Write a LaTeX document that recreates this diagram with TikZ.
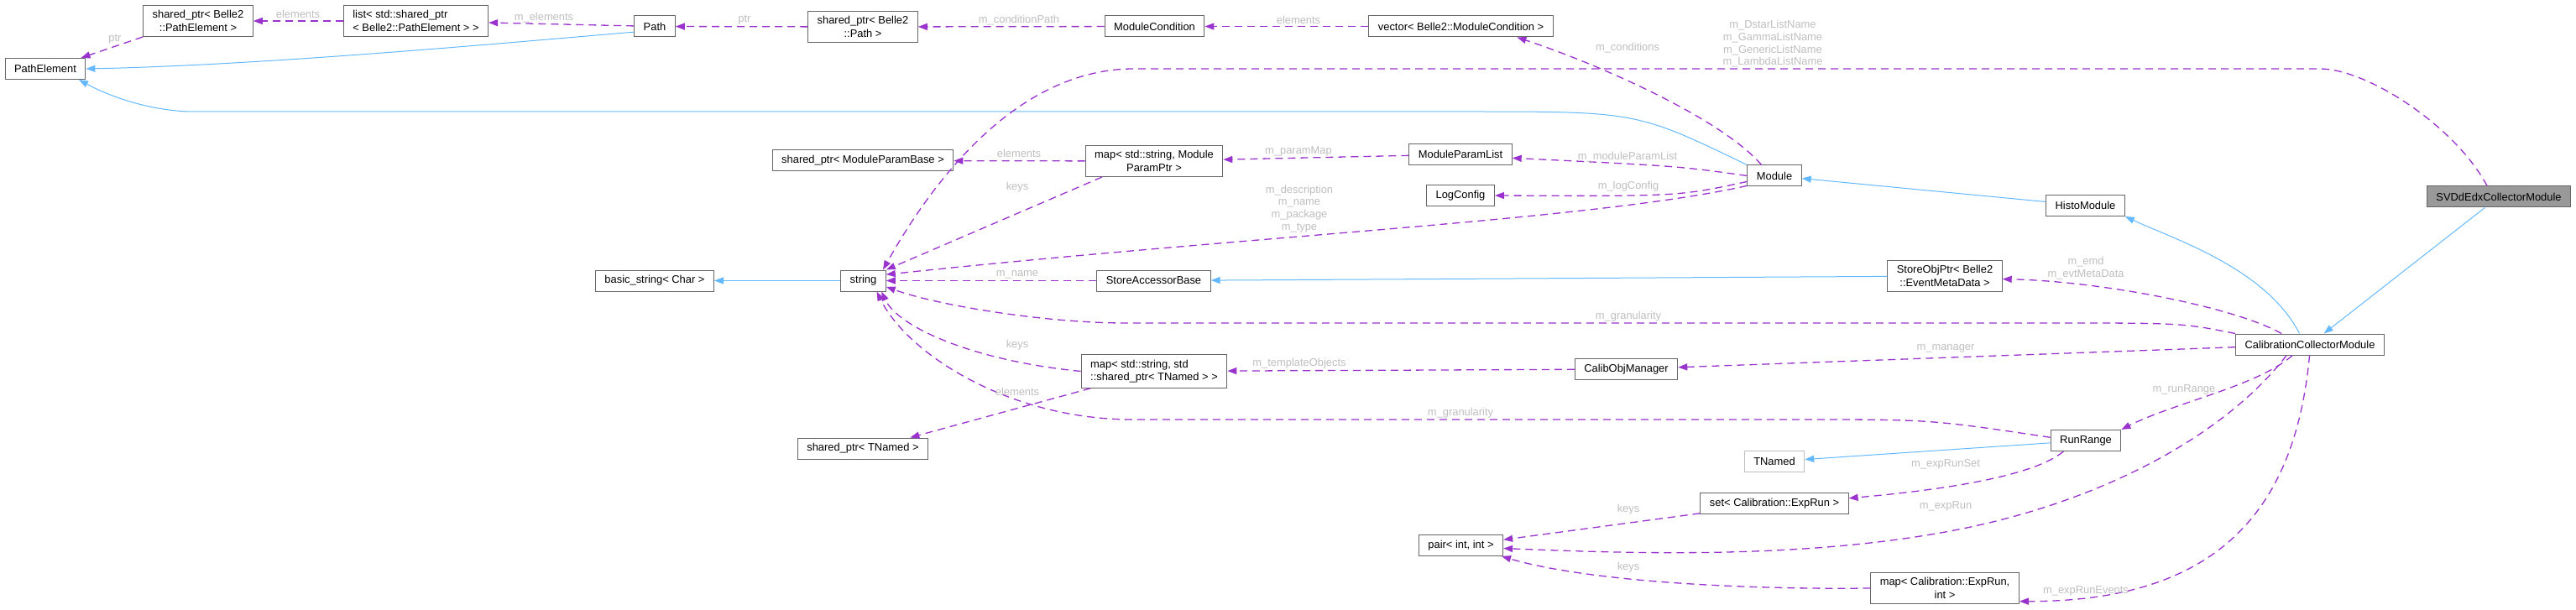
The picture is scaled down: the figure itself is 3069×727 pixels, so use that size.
\documentclass[tikz,border=0pt]{standalone}
\usepackage{fontspec}
\setmainfont{Liberation Sans}
\usetikzlibrary{arrows.meta}
\definecolor{edgeblue}{HTML}{63B8FF}
\definecolor{edgepurple}{HTML}{9A32CD}
\definecolor{boxgray}{HTML}{666666}
\definecolor{nodocgray}{HTML}{BFBFBF}
\definecolor{focusgray}{HTML}{999999}
\definecolor{lblgray}{HTML}{BEBEBE}
\begin{document}
\begin{tikzpicture}[x=1pt, y=-1pt, font=\fontsize{12.9}{15.5}\selectfont,
    cls/.style={draw=boxgray, line width=1pt, fill=white, inner xsep=11pt, inner ysep=6pt, minimum height=25pt},
    inh/.style={edgeblue, line width=1pt, -{Triangle[length=11pt,width=8pt]}},
    use/.style={edgepurple, line width=1.3pt, dash pattern=on 9pt off 6pt, -{Triangle[length=11pt,width=8pt]}},
    lbl/.style={text=lblgray, inner sep=0pt, font=\fontsize{12.9}{14.7}\selectfont}]
    \useasboundingbox (0,0) rectangle (3069,727);
    \node[cls] (pe) at (54,82) {PathElement};
    \node[cls, align=center] (sppe) at (236,25) {shared\_ptr< Belle2\\::PathElement >};
    \node[cls, align=left] (lst) at (495.5,25) {list< std::shared\_ptr\\< Belle2::PathElement > >};
    \node[cls] (path) at (780,31.5) {Path};
    \node[cls, align=center] (sppath) at (1028,32) {shared\_ptr< Belle2\\::Path >};
    \node[cls] (mcond) at (1375.5,31.5) {ModuleCondition};
    \node[cls] (mcvec) at (1740.5,31.5) {vector< Belle2::ModuleCondition >};
    \node[cls] (spmpb) at (1028,191.5) {shared\_ptr< ModuleParamBase >};
    \node[cls, align=center] (pmap) at (1375,192) {map< std::string, Module\\ParamPtr >};
    \node[cls] (mplist) at (1740,184) {ModuleParamList};
    \node[cls] (logc) at (1740,233) {LogConfig};
    \node[cls] (module) at (2114,209.5) {Module};
    \node[cls] (histo) at (2484.5,245) {HistoModule};
    \node[cls, fill=focusgray] (svd) at (2977,234.5) {SVDdEdxCollectorModule};
    \node[cls] (str) at (1028.5,334.5) {string};
    \node[cls] (bstr) at (780,334.5) {basic\_string< Char >};
    \node[cls] (sab) at (1374.5,334.5) {StoreAccessorBase};
    \node[cls, align=center] (sop) at (2317,329) {StoreObjPtr< Belle2\\::EventMetaData >};
    \node[cls] (ccm) at (2752,410.5) {CalibrationCollectorModule};
    \node[cls] (com) at (1937.5,440) {CalibObjManager};
    \node[cls, align=left] (tmap) at (1375,442.5) {map< std::string, std\\::shared\_ptr< TNamed > >};
    \node[cls] (sptn) at (1028,534.5) {shared\_ptr< TNamed >};
    \node[cls] (pair) at (1740.5,650) {pair< int, int >};
    \node[cls] (rr) at (2485,525) {RunRange};
    \node[cls, draw=nodocgray] (tn) at (2114,550) {TNamed};
    \node[cls] (erset) at (2114,600) {set< Calibration::ExpRun >};
    \node[cls, align=center] (ermap) at (2317,701) {map< Calibration::ExpRun,\\int >};
    \draw[inh] (path.195) .. controls (560,55) and (300,78) .. (pe.east);
    \draw[inh] (module.north west) .. controls (1950,133) .. (1750,133) -- (231,133) .. controls (190,133) and (140,120) .. (pe.-18);
    \draw[inh] (histo) -- (module);
    \draw[inh] (ccm.134) .. controls (2700,320) and (2590,285) .. (histo.south east);
    \draw[inh] (svd) -- (ccm);
    \draw[inh] (sop) -- (sab);
    \draw[inh] (str) -- (bstr);
    \draw[inh] (rr) -- (tn);
    \draw[use] (sppe.south west) -- (pe.17);
    \draw[use] (lst) -- (sppe);
    \draw[use] (path) -- (lst);
    \draw[use] (sppath) -- (path);
    \draw[use] (mcond) -- (sppath);
    \draw[use] (mcvec) -- (mcond);
    \draw[use] (module.140) .. controls (2050,140) and (1900,75) .. (mcvec.-11);
    \draw[use] (svd.137) .. controls (2925,150) and (2820,82) .. (2764,82) -- (1351,82) .. controls (1220,82) and (1120,200) .. (str.29);
    \draw[use] (module.west) .. controls (2000,198) .. (mplist.-4);
    \draw[use] (mplist) -- (pmap);
    \draw[use] (pmap) -- (spmpb);
    \draw[use] (pmap.197) -- (str.north east);
    \draw[use] (module.192) .. controls (2000,234) .. (logc.east);
    \draw[use] (module.200) .. controls (1900,262) and (1500,280) .. (str.15);
    \draw[use] (sab) -- (str);
    \draw[use] (ccm.159) .. controls (2660,365) and (2500,335) .. (sop.-3);
    \draw[use] (ccm.north west) .. controls (2600,385) .. (2450,385) -- (1340,385) .. controls (1250,385) and (1120,365) .. (str.-15);
    \draw[use] (ccm) -- (com);
    \draw[use] (com) -- (tmap);
    \draw[use] (tmap.west) .. controls (1160,430) and (1070,390) .. (str.-31);
    \draw[use] (tmap.195.5) -- (sptn.13);
    \draw[use] (rr.175) .. controls (2300,500) .. (2150,500) -- (1350,500) .. controls (1200,500) and (1080,420) .. (str.-39);
    \draw[use] (ccm.-148) .. controls (2690,460) and (2590,480) .. (rr.north east);
    \draw[use] (rr.-154) .. controls (2420,570) and (2300,585) .. (erset.4);
    \draw[use] (erset) -- (pair);
    \draw[use] (ccm.-155) .. controls (2650,520) and (2500,600) .. (2323,633) .. controls (2146,666) and (1950,660) .. (pair.-4);
    \draw[use] (ermap.west) .. controls (2050,703) and (1880,690) .. (pair.-15);
    \draw[use] (ccm.-92) .. controls (2735,600) and (2650,717) .. (ermap.-10);
    \node[lbl] (lptr1) at (137,47) {ptr};
    \node[lbl] (lel1) at (355,17) {elements};
    \node[lbl] (lmel) at (648,21) {m\_elements};
    \node[lbl] (lptr2) at (887,24) {ptr};
    \node[lbl] (lcp) at (1214,24) {m\_conditionPath};
    \node[lbl] (lel2) at (1547,24) {elements};
    \node[lbl] (lcond) at (1939,57) {m\_conditions};
    \node[lbl, align=center] (llist) at (2112,52.5) {m\_DstarListName\\m\_GammaListName\\m\_GenericListName\\m\_LambdaListName};
    \node[lbl] (lmpl) at (1939,187) {m\_moduleParamList};
    \node[lbl] (lpm) at (1547,180) {m\_paramMap};
    \node[lbl] (lel3) at (1214,183) {elements};
    \node[lbl] (lkey1) at (1212,223) {keys};
    \node[lbl] (llog) at (1940,222) {m\_logConfig};
    \node[lbl, align=center] (ldesc) at (1548,249) {m\_description\\m\_name\\m\_package\\m\_type};
    \node[lbl] (lname) at (1212,327) {m\_name};
    \node[lbl, align=center] (lemd) at (2485,319.5) {m\_emd\\m\_evtMetaData};
    \node[lbl] (lgran1) at (1940,377) {m\_granularity};
    \node[lbl] (lman) at (2318,415) {m\_manager};
    \node[lbl] (ltmp) at (1548,433) {m\_templateObjects};
    \node[lbl] (lkey2) at (1212,411) {keys};
    \node[lbl] (lel4) at (1212,467) {elements};
    \node[lbl] (lgran2) at (1740,492) {m\_granularity};
    \node[lbl] (lrr) at (2602,464) {m\_runRange};
    \node[lbl] (lers) at (2318,553) {m\_expRunSet};
    \node[lbl] (lkey3) at (1940,607) {keys};
    \node[lbl] (lexp) at (2318,603) {m\_expRun};
    \node[lbl] (lkey4) at (1940,676) {keys};
    \node[lbl] (lere) at (2485,704) {m\_expRunEvents};
\end{tikzpicture}
\end{document}
